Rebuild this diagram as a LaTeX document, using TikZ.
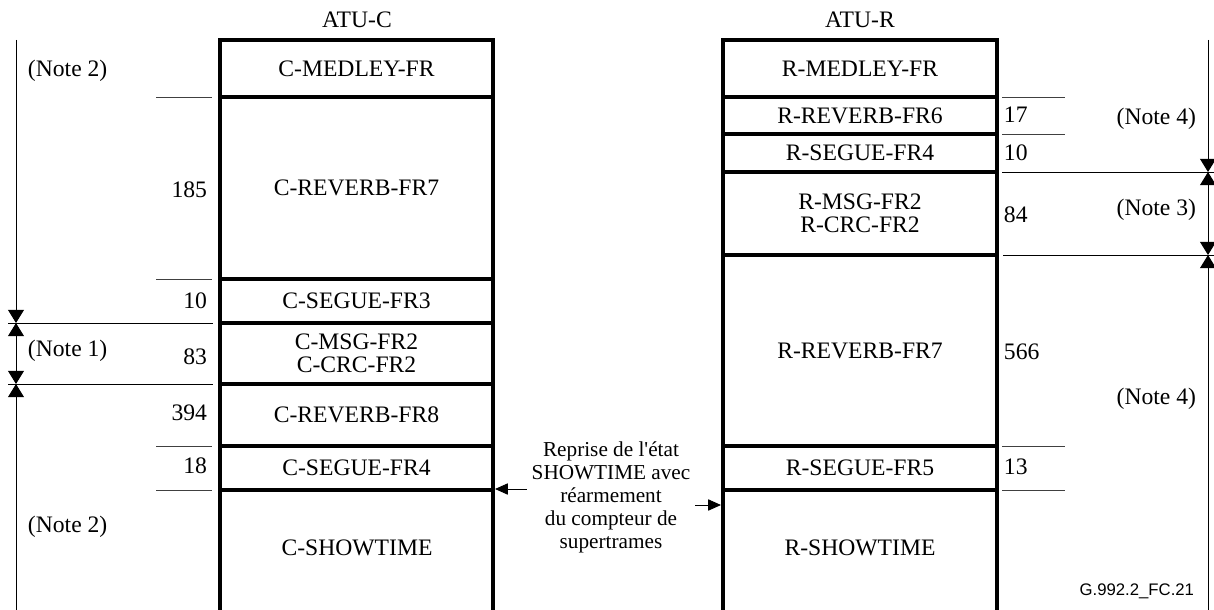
\documentclass[tikz,border=0pt]{standalone}
\usepackage{fontspec}
\setmainfont{Liberation Serif}
\newfontfamily\figsans{Liberation Sans}
\usetikzlibrary{arrows.meta}

\tikzset{
  seg/.style={line width=2.4pt},
  tickline/.style={line width=0.7pt, black!75},
  sepline/.style={line width=0.7pt},
  dim/.style={line width=0.7pt, >={Triangle[length=0.33cm,width=0.4cm]}},
  go/.style={line width=0.7pt, ->, >={Triangle[length=0.32cm,width=0.28cm]}},
  num/.style={anchor=east},
  rnum/.style={anchor=west},
  note/.style={anchor=west},
  rnote/.style={anchor=east}
}

\begin{document}
\begin{tikzpicture}[x=0.025cm,y=-0.025cm,font=\fontsize{16.8}{16.4}\selectfont]
\useasboundingbox (0,0) rectangle (1214,610);

% ATU-C
\node (atuc) at (357,20) {ATU-C};
\draw[seg] (220,40) rectangle node (cmedley) {C-MEDLEY-FR} (493,97);
\draw[seg] (220,97) rectangle node (crev7) {C-REVERB-FR7} (493,279);
\draw[seg] (220,279) rectangle node (cseg3) {C-SEGUE-FR3} (493,323);
\draw[seg] (220,323) rectangle node[align=center] (cmsg) {C-MSG-FR2\\C-CRC-FR2} (493,384);
\draw[seg] (220,384) rectangle node (crev8) {C-REVERB-FR8} (493,446);
\draw[seg] (220,446) rectangle node (cseg4) {C-SEGUE-FR4} (493,490);
\draw[seg] (220,610) -- (220,490) -- (493,490) -- (493,610);
\node (cshow) at (357,548) {C-SHOWTIME};

\node[num] (c185) at (212,190) {185};
\node[num] (c10) at (212,301) {10};
\node[num] (c83) at (212,357) {83};
\node[num] (c394) at (212,413) {394};
\node[num] (c18) at (212,466) {18};
\foreach \y in {97,279,446,490}
  \draw[tickline] (156,\y) -- (212,\y);
\draw[sepline] (8,323) -- (213,323);
\draw[sepline] (8,384) -- (213,384);

\coordinate (ltop) at (16,40);
\coordinate (lone) at (16,323);
\coordinate (ltwo) at (16,384);
\coordinate (lbot) at (16,610);
\draw[dim,->] (ltop) -- (lone);
\draw[dim,<->] (lone) -- (ltwo);
\draw[dim,<-] (ltwo) -- (lbot);
\node[note] (lnote2a) at (23,71) {(Note 2)};
\node[note] (lnote1) at (23,351) {(Note 1)};
\node[note] (lnote2b) at (23,527) {(Note 2)};

% ATU-R
\node (atur) at (860,20) {ATU-R};
\draw[seg] (723,40) rectangle node (rmedley) {R-MEDLEY-FR} (997,97);
\draw[seg] (723,97) rectangle node (rrev6) {R-REVERB-FR6} (997,134);
\draw[seg] (723,134) rectangle node (rseg4) {R-SEGUE-FR4} (997,172);
\draw[seg] (723,172) rectangle node[align=center] (rmsg) {R-MSG-FR2\\R-CRC-FR2} (997,255);
\draw[seg] (723,255) rectangle node (rrev7) {R-REVERB-FR7} (997,446);
\draw[seg] (723,446) rectangle node (rseg5) {R-SEGUE-FR5} (997,490);
\draw[seg] (723,610) -- (723,490) -- (997,490) -- (997,610);
\node (rshow) at (860,548) {R-SHOWTIME};

\node[rnum] (r17) at (999,115) {17};
\node[rnum] (r10) at (999,153) {10};
\node[rnum] (r84) at (999,215) {84};
\node[rnum] (r566) at (999,352) {566};
\node[rnum] (r13) at (999,467) {13};
\foreach \y in {97,134,446,490}
  \draw[tickline] (1002,\y) -- (1065,\y);
\draw[sepline] (1002,172) -- (1214,172);
\draw[sepline] (1003,255) -- (1214,255);

\coordinate (rtop) at (1208,40);
\coordinate (rone) at (1208,172);
\coordinate (rtwo) at (1208,255);
\coordinate (rbot) at (1208,610);
\draw[dim,->] (rtop) -- (rone);
\draw[dim,<->] (rone) -- (rtwo);
\draw[dim,<-] (rtwo) -- (rbot);
\node[rnote] (rnote4a) at (1201,119) {(Note 4)};
\node[rnote] (rnote3) at (1201,210) {(Note 3)};
\node[rnote] (rnote4b) at (1201,399) {(Note 4)};

% reprise de SHOWTIME
\node[align=center, font=\fontsize{15.1}{16.4}\selectfont] (resume) at (611,497)
  {Reprise de l\textquotesingle état\\SHOWTIME avec\\réarmement\\du compteur de\\supertrames};
\coordinate (resumec) at (495,489);
\coordinate (resumer) at (721,505);
\draw[go] (resume.west |- resumec) -- (resumec);
\draw[go] (resume.east |- resumer) -- (resumer);

\node[anchor=east, font=\figsans\fontsize{11.9}{12}\selectfont] (figid) at (1199,591) {G.992.2\_FC.21};
\end{tikzpicture}
\end{document}
